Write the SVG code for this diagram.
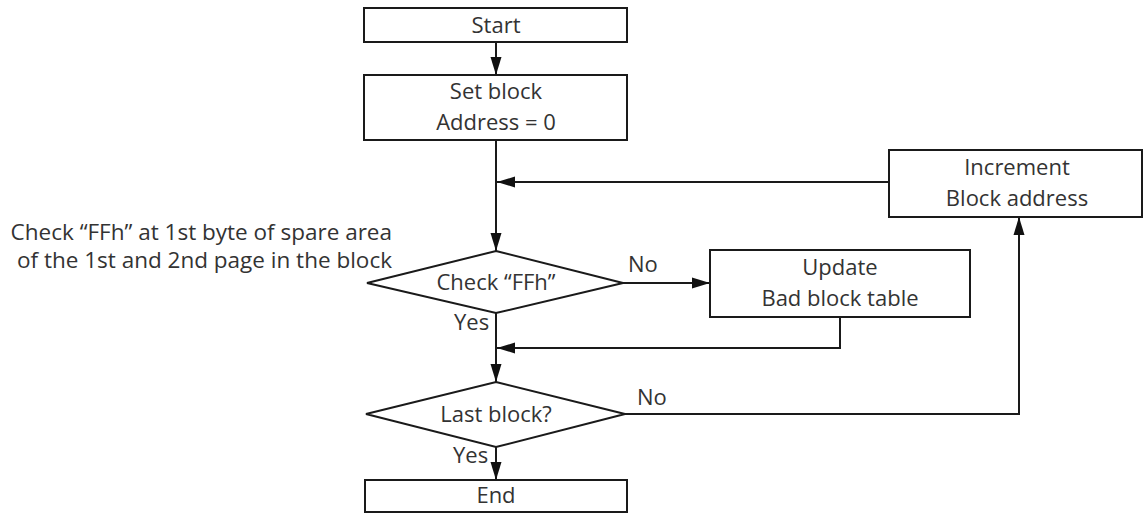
<svg xmlns="http://www.w3.org/2000/svg" width="1148" height="513" viewBox="0 0 1148 513">
<style>
.box{fill:#fff;stroke:#1a1a1a;stroke-width:2}
.ln{fill:none;stroke:#1a1a1a;stroke-width:2}
.t{font-family:"Open Sans","Liberation Sans",sans-serif;font-size:22px;fill:#333;text-anchor:middle}
.l{font-family:"Open Sans","Liberation Sans",sans-serif;font-size:22px;fill:#333}
.n{font-family:"Open Sans","Liberation Sans",sans-serif;font-size:22.5px;fill:#333;text-anchor:end}
</style>
<defs>
<marker id="ah" markerUnits="userSpaceOnUse" markerWidth="18" markerHeight="12" refX="18" refY="6" orient="auto">
<path d="M0,0.5 L18,6 L0,11.5 z" fill="#111"/>
</marker>
</defs>
<rect width="1148" height="513" fill="#fff"/>
<g id="connectors">
<line class="ln" x1="496" y1="42" x2="496" y2="75" marker-end="url(#ah)"/>
<line class="ln" x1="496" y1="140" x2="496" y2="251" marker-end="url(#ah)"/>
<line class="ln" x1="889" y1="182" x2="497" y2="182" marker-end="url(#ah)"/>
<line class="ln" x1="623" y1="283" x2="710" y2="283" marker-end="url(#ah)"/>
<polyline class="ln" points="840,317 840,348 497,348" marker-end="url(#ah)"/>
<line class="ln" x1="496" y1="313" x2="496" y2="382" marker-end="url(#ah)"/>
<polyline class="ln" points="625,414 1019,414 1019,217" marker-end="url(#ah)"/>
<line class="ln" x1="496" y1="447" x2="496" y2="480" marker-end="url(#ah)"/>
<text class="l" x="628" y="272">No</text>
<text class="l" x="454" y="330">Yes</text>
<text class="l" x="637" y="405">No</text>
<text class="l" x="453" y="463">Yes</text>
</g>
<g id="start">
<rect class="box" x="364" y="8" width="263" height="34"/>
<text class="t" x="496" y="33">Start</text>
</g>
<g id="setblock">
<rect class="box" x="364" y="75" width="263" height="65"/>
<text class="t" x="496" y="99">Set block</text>
<text class="t" x="496" y="130">Address = 0</text>
</g>
<g id="increment">
<rect class="box" x="889" y="150" width="253" height="67"/>
<text class="t" x="1017" y="175">Increment</text>
<text class="t" x="1017" y="206">Block address</text>
</g>
<g id="note">
<text class="n" x="392" y="240">Check “FFh” at 1st byte of spare area</text>
<text class="n" x="392" y="268">of the 1st and 2nd page in the block</text>
</g>
<g id="checkffh">
<polygon class="box" points="496,251 623,283 496,313 367,283"/>
<text class="t" x="496" y="290">Check “FFh”</text>
</g>
<g id="update">
<rect class="box" x="710" y="250" width="260" height="67"/>
<text class="t" x="840" y="275">Update</text>
<text class="t" x="840" y="306">Bad block table</text>
</g>
<g id="lastblock">
<polygon class="box" points="496,382 625,414 496,447 366,414"/>
<text class="t" x="496" y="422">Last block?</text>
</g>
<g id="end">
<rect class="box" x="365" y="480" width="262" height="32"/>
<text class="t" x="496" y="503">End</text>
</g>
</svg>
